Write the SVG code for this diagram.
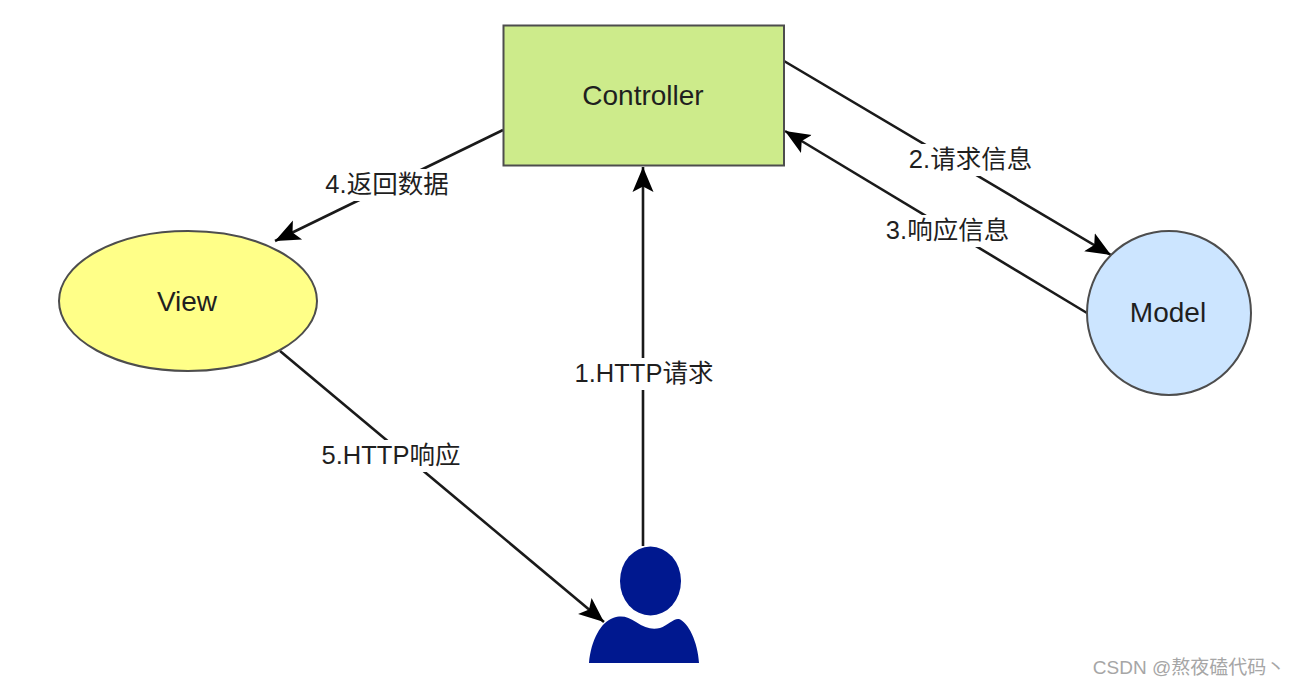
<svg xmlns="http://www.w3.org/2000/svg" width="1294" height="687" viewBox="0 0 1294 687">
<style>
.n{stroke:#4d4d4d;stroke-width:2}
text{font-family:"Liberation Sans","Noto Sans CJK SC",sans-serif;fill:#1f1f1f;text-anchor:middle}
.t{font-size:28px}
.l{font-size:25.500px}
.c{fill:none;stroke:#1a1a1a;stroke-width:2.600;marker-end:url(#a)}
.b{fill:#fff;stroke:none}
</style>
<defs>
<marker id="a" markerUnits="userSpaceOnUse" markerWidth="30" markerHeight="26" refX="25" refY="13" orient="auto">
<path d="M0 2.500 L25 13 L0 23.500 L5.500 13 Z" fill="#000"/>
</marker>
</defs>
<rect width="1294" height="687" fill="#fff"/>
<g id="connectors">
<path class="c" d="M643 546V167"/>
<path class="c" d="M784 61L1111 255"/>
<path class="c" d="M1087 313L785 131"/>
<path class="c" d="M503 130L275 241"/>
<path class="c" d="M280 351L604 622"/>
</g>
<g id="label-1"><rect class="b" x="574" y="358" width="140" height="32"/><text class="l" x="644" y="382">1.HTTP请求</text></g>
<g id="label-2"><rect class="b" x="907" y="144" width="127" height="32"/><text class="l" x="970.500" y="168">2.请求信息</text></g>
<g id="label-3"><rect class="b" x="884" y="215" width="127" height="32"/><text class="l" x="947.500" y="239">3.响应信息</text></g>
<g id="label-4"><rect class="b" x="323" y="169" width="127" height="32"/><text class="l" x="387" y="193">4.返回数据</text></g>
<g id="label-5"><rect class="b" x="320" y="440" width="142" height="32"/><text class="l" x="391" y="464">5.HTTP响应</text></g>
<g id="controller"><rect class="n" x="503.500" y="25.500" width="280.500" height="140" fill="#cdeb8b"/><text class="t" x="643" y="105">Controller</text></g>
<g id="view"><ellipse class="n" cx="188" cy="301" rx="129" ry="70" fill="#ffff88"/><text class="t" x="187" y="311">View</text></g>
<g id="model"><circle class="n" cx="1169" cy="313" r="82" fill="#cce5ff"/><text class="t" x="1168" y="322">Model</text></g>
<g id="user">
<ellipse cx="650.500" cy="581" rx="30.500" ry="34.500" fill="#00188f"/>
<path d="M589 663C591 640 601 622 613 618C622 615 628 617 636 622C645 628 652 630 660 628C668 625 674 618 679 619C688 622 698 642 699 663Z" fill="#00188f"/>
</g>
<text x="1189" y="674" style="font-size:19px;fill:#a6a6a6">CSDN @熬夜磕代码丶</text>
</svg>
